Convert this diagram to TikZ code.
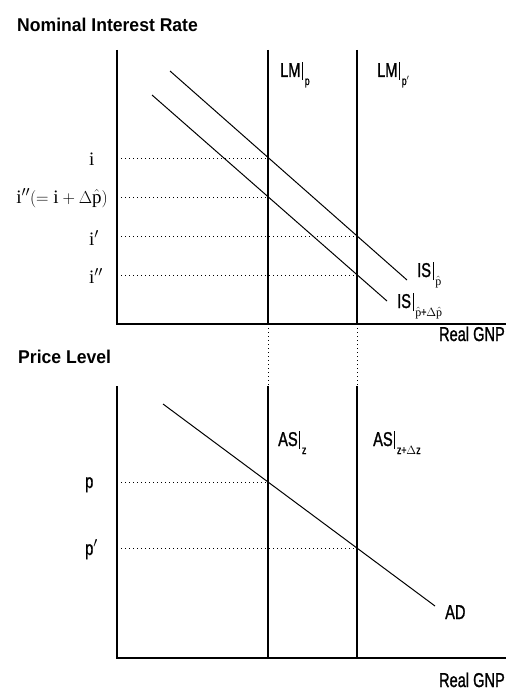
\documentclass[tikz,border=0pt]{standalone}
\usepackage{fontspec}
\setmainfont{Liberation Serif}
\newfontfamily\lblfont{Liberation Sans}[FakeStretch=0.73,FakeBold=1.2]
\newfontfamily\ttlfont{Liberation Sans}[FakeStretch=0.95]
\newcommand{\atval}[1]{\kern1.5pt\rule[-3pt]{1.3pt}{18pt}\kern1.5pt\raisebox{-8pt}{\fontsize{12}{12}\selectfont #1}}
\begin{document}
\begin{tikzpicture}[x=1pt,y=-1pt,
  axis/.style={line width=2.6pt},
  curve/.style={line width=1pt},
  vline/.style={line width=1.2pt},
  guide/.style={line width=0.8pt, dash pattern=on 0.8pt off 3.2pt},
  ttl/.style={inner sep=0, anchor=base west, font=\ttlfont\bfseries\fontsize{18.5}{18.5}\selectfont},
  lbl/.style={inner sep=0, anchor=base west, font=\lblfont\fontsize{20}{20}\selectfont},
  ylbl/.style={inner sep=0, anchor=base west, font=\fontsize{19}{19}\selectfont}]
\useasboundingbox (0,0) rectangle (506,690);

% ---------- top panel ----------
\coordinate (Y1) at (117,50);
\coordinate (O1) at (117,324);
\coordinate (X1) at (506,324);
\draw[axis] (Y1) -- (O1) -- (X1);

\coordinate (LMaT) at (268,50);
\coordinate (LMaB) at (268,324);
\coordinate (LMbT) at (357,50);
\coordinate (LMbB) at (357,324);
\draw[vline] (LMaT) -- (LMaB);
\draw[vline] (LMbT) -- (LMbB);

\coordinate (ISaS) at (170,71);
\coordinate (ISaE) at (407,280);
\coordinate (ISbS) at (152,95);
\coordinate (ISbE) at (387,301);
\draw[curve] (ISaS) -- (ISaE);
\draw[curve] (ISbS) -- (ISbE);

\coordinate (Pi) at (268,158);
\coordinate (Pii) at (268,197);
\coordinate (Pip) at (357,236);
\coordinate (Pipp) at (357,275);
\draw[guide] (O1 |- Pi) -- (Pi);
\draw[guide] (O1 |- Pii) -- (Pii);
\draw[guide] (O1 |- Pip) -- (Pip);
\draw[guide] (O1 |- Pipp) -- (Pipp);

\node[ylbl] (li) at (89,165) {i};
\node[ylbl, anchor=base east] (lii) at (108,203) {$\mathrm{i}''(=\mathrm{i}+\Delta\hat{\mathrm{p}})$};
\node[ylbl] (lip) at (89,245) {i$'$};
\node[ylbl] (lipp) at (89,283) {i$''$};

\node[ttl] (t1) at (17,32) {Nominal Interest Rate};
\node[lbl] (lmp) at (280,77) {LM\atval{p}};
\node[lbl] (lmpp) at (377,77) {LM\atval{p$'$}};
\node[lbl] (isp) at (417,277) {IS\atval{$\hat{\mathrm{p}}$}};
\node[lbl] (ispd) at (397,308) {IS\atval{$\hat{\mathrm{p}}$+$\Delta\hat{\mathrm{p}}$}};
\node[lbl, anchor=base east] (gnp1) at (505,341) {Real GNP};

% ---------- bottom panel ----------
\coordinate (Y2) at (117,386);
\coordinate (O2) at (117,658);
\coordinate (X2) at (506,658);
\draw[axis] (Y2) -- (O2) -- (X2);

\coordinate (ASaT) at (268,386);
\coordinate (ASaB) at (268,658);
\coordinate (ASbT) at (357,386);
\coordinate (ASbB) at (357,658);
\draw[vline] (ASaT) -- (ASaB);
\draw[vline] (ASbT) -- (ASbB);
\draw[guide] (LMaB) -- (ASaT);
\draw[guide] (LMbB) -- (ASbT);

\coordinate (ADS) at (163,404);
\coordinate (ADE) at (435,606);
\draw[curve] (ADS) -- (ADE);

\coordinate (Pp) at (268,482);
\coordinate (Ppp) at (357,548);
\draw[guide] (O2 |- Pp) -- (Pp);
\draw[guide] (O2 |- Ppp) -- (Ppp);

\node[lbl] (lp) at (85,488) {p};
\node[lbl] (lpp) at (85,555) {p$'$};

\node[ttl] (t2) at (18,363) {Price Level};
\node[lbl] (asz) at (278,446) {AS\atval{z}};
\node[lbl] (aszd) at (373,446) {AS\atval{z+$\Delta$z}};
\node[lbl] (ad) at (445,619) {AD};
\node[lbl, anchor=base east] (gnp2) at (505,687) {Real GNP};
\end{tikzpicture}
\end{document}
